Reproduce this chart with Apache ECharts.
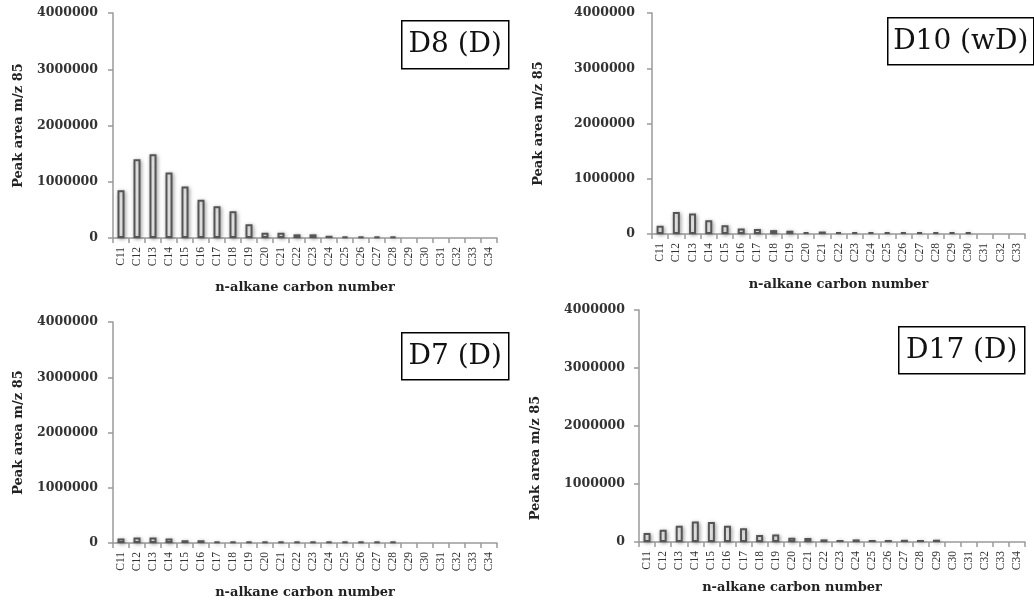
<!DOCTYPE html>
<html><head><meta charset="utf-8">
<script src="https://cdn.jsdelivr.net/npm/echarts@6/dist/echarts.min.js"></script>
<style>html,body{margin:0;padding:0;background:#fff}#c{width:1034px;height:604px}</style>
</head><body><div id="c"></div>
<script>
const catsA = ['C11','C12','C13','C14','C15','C16','C17','C18','C19','C20','C21','C22','C23','C24','C25','C26','C27','C28','C29','C30','C31','C32','C33','C34'];
const catsB = ['C11','C12','C13','C14','C15','C16','C17','C18','C19','C20','C21','C22','C23','C24','C25','C26','C27','C28','C29','C30','C31','C32','C33'];
const yTicks = [0, 1000000, 2000000, 3000000, 4000000];

const d8  = [850000,1400000,1490000,1165000,915000,680000,565000,475000,245000,95000,95000,65000,65000,40000,30000,30000,30000,30000,null,null,null,null,null,null];
const d10 = [150000,400000,370000,250000,160000,100000,90000,70000,60000,35000,45000,35000,35000,35000,35000,35000,35000,35000,35000,35000,null,null,null];
const d7  = [80000,100000,100000,80000,50000,50000,30000,30000,30000,30000,30000,30000,30000,30000,30000,30000,30000,30000,null,null,null,null,null,null];
const d17 = [155000,210000,280000,355000,345000,280000,235000,120000,130000,75000,70000,45000,35000,45000,35000,35000,38000,35000,40000,null,null,null,null,null];

const panelLabels = ['D8 (D)','D10 (wD)','D7 (D)','D17 (D)'];
const xTitle = 'n-alkane carbon number';
const yTitle = 'Peak area m/z 85';

const chart = echarts.init(document.getElementById('c'), null, {renderer:'canvas'});

const serif = 'DejaVu Serif';
const grids = [
  {left:113, top:13, width:384, height:225},
  {left:652, top:13, width:373, height:221},
  {left:113, top:322, width:384, height:221},
  {left:639, top:310, width:386, height:232}
];
const panels = [
  {cats:catsA, data:d8,  yGap:88,  yMargin:15, xGap:43, xPad:[0,0,0,0], yPad:[0,0,0,0]},
  {cats:catsB, data:d10, yGap:107, yMargin:17, xGap:44, xPad:[0,0,0,0], yPad:[0,0,0,0]},
  {cats:catsA, data:d7,  yGap:88,  yMargin:15, xGap:43, xPad:[0,0,0,0], yPad:[0,0,0,0]},
  {cats:catsA, data:d17, yGap:97,  yMargin:14, xGap:39, xPad:[0,80,0,0], yPad:[0,64,0,0]}
];
const axisGray = '#9a9a9a';
const xAxes = [], yAxes = [], series = [];
panels.forEach((p, i) => {
  xAxes.push({
    type:'category', gridIndex:i, data:p.cats,
    name:xTitle, nameLocation:'middle', nameGap:p.xGap,
    nameTextStyle:{fontFamily:serif, fontWeight:'bold', fontSize:13, color:'#222', padding:p.xPad},
    axisLine:{lineStyle:{color:axisGray, width:1.5}},
    axisTick:{show:true, length:5, lineStyle:{color:axisGray, width:1.5}},
    axisLabel:{rotate:90, margin:9, fontFamily:'Liberation Serif', fontSize:11.5, color:'#333', interval:0}
  });
  yAxes.push({
    type:'value', gridIndex:i, min:0, max:yTicks[yTicks.length-1], interval:yTicks[1]-yTicks[0],
    name:yTitle, nameLocation:'middle', nameGap:p.yGap,
    nameTextStyle:{fontFamily:serif, fontWeight:'bold', fontSize:13, color:'#222', padding:p.yPad},
    axisLine:{show:true, lineStyle:{color:axisGray, width:1.5}},
    axisTick:{show:true, length:5, lineStyle:{color:axisGray, width:1.5}},
    splitLine:{show:false},
    axisLabel:{margin:p.yMargin, fontFamily:serif, fontWeight:'bold', fontSize:12.5, color:'#333',
      formatter:v => String(v)}
  });
  series.push({
    type:'bar', xAxisIndex:i, yAxisIndex:i, data:p.data, barWidth:7,
    itemStyle:{color:'#fff', borderColor:'#555', borderWidth:2,
      shadowBlur:4, shadowColor:'rgba(0,0,0,0.35)', shadowOffsetX:1, shadowOffsetY:1},
    emphasis:{disabled:true}, animation:false
  });
});

const boxes = [
  {x:401, y:20, w:107, h:48},
  {x:887, y:17, w:146, h:47},
  {x:401, y:332, w:107, h:47},
  {x:898, y:326, w:126, h:47}
];
const graphic = boxes.map((b, i) => ({
  type:'group', left:b.x, top:b.y,
  children:[
    {type:'rect', shape:{x:0, y:0, width:b.w, height:b.h}, style:{fill:'#fff', stroke:'#000', lineWidth:1.5}},
    {type:'text', x:b.w/2, y:b.h/2, style:{text:panelLabels[i], fontFamily:serif, fontSize:28, fill:'#111', align:'center', verticalAlign:'middle'}}
  ]
}));

chart.setOption({
  animation:false,
  grid:grids.map(g => Object.assign({containLabel:false}, g)),
  xAxis:xAxes, yAxis:yAxes, series:series, graphic:graphic
});
</script></body></html>
